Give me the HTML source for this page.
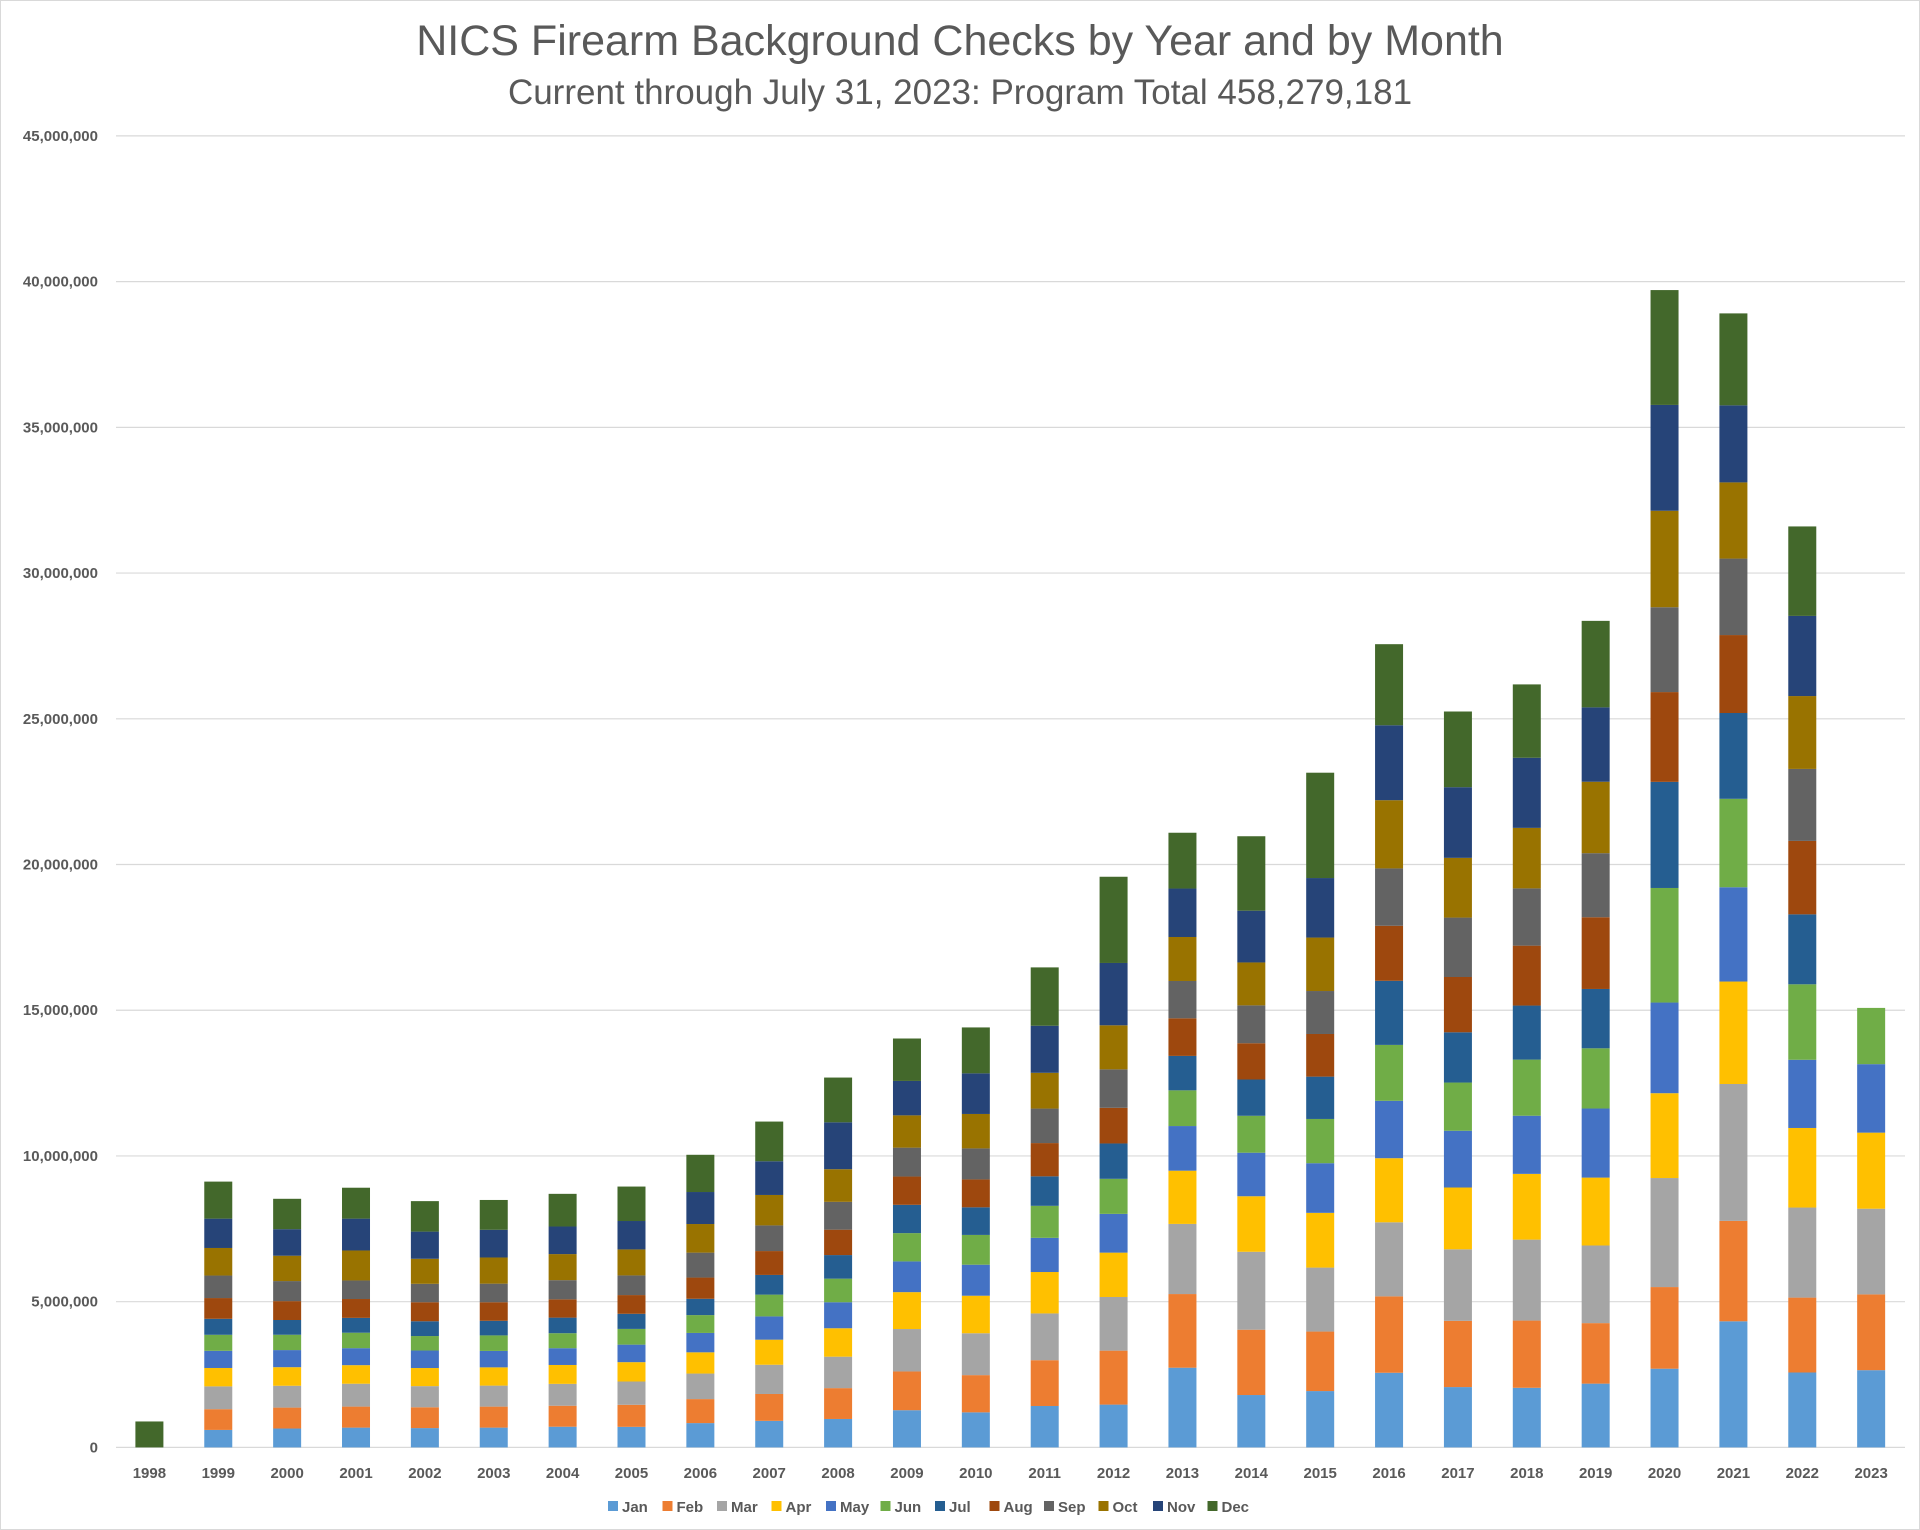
<!DOCTYPE html>
<html><head><meta charset="utf-8">
<style>
html,body{margin:0;padding:0;background:#fff;}
svg{display:block;font-family:"Liberation Sans",Arial,sans-serif;}
</style></head>
<body>
<svg id="c" width="1920" height="1530" viewBox="0 0 1920 1530" xmlns="http://www.w3.org/2000/svg">
<rect x="0.5" y="0.5" width="1919" height="1529" fill="#fff" stroke="#d9d9d9"/>
<text x="960" y="55" text-anchor="middle" font-size="43" fill="#595959">NICS Firearm Background Checks by Year and by Month</text>
<text x="960" y="104" text-anchor="middle" font-size="35" fill="#595959">Current through July 31, 2023: Program Total 458,279,181</text>
<g id="g"></g>
</svg>
<script>
var X0=149.4,DX=68.87,Y0=1447.4,H=1311.5,BW=28;
var cols=["#5B9BD5","#ED7D31","#A5A5A5","#FFC000","#4472C4","#70AD47","#255E91","#9E480E","#636363","#997300","#264478","#43682B"];
var names=["Jan","Feb","Mar","Apr","May","Jun","Jul","Aug","Sep","Oct","Nov","Dec"];
var D={
1999:[.59,.70,.77,.62,.58,.54,.54,.70,.76,.93,.99,1.25],
2000:[.64,.71,.74,.63,.58,.52,.50,.64,.68,.86,.90,1.03],
2001:[.64,.68,.74,.60,.55,.50,.48,.61,.60,.97,1.03,1.00],
2002:[.64,.69,.70,.60,.58,.48,.49,.63,.61,.83,.90,1.01],
2003:[.65,.69,.69,.60,.54,.51,.48,.61,.61,.86,.91,.98],
2004:[.69,.70,.73,.63,.56,.50,.52,.61,.64,.87,.92,1.09],
2005:[.68,.73,.77,.64,.58,.52,.50,.62,.65,.86,.94,1.14],
2006:[.79,.78,.83,.69,.63,.58,.53,.69,.81,.93,1.04,1.21],
2007:[.89,.90,.98,.84,.78,.73,.66,.80,.86,1.02,1.13,1.33],
2008:[.94,1.02,1.04,.94,.86,.78,.78,.84,.92,1.08,1.55,1.48],
2009:[1.21,1.26,1.38,1.20,1.00,.92,.92,.92,.94,1.05,1.12,1.38],
2010:[1.13,1.20,1.35,1.21,1.00,.96,.89,.90,1.00,1.11,1.31,1.48],
2011:[1.32,1.46,1.49,1.32,1.09,1.02,.94,1.06,1.10,1.14,1.50,1.86],
2012:[1.38,1.74,1.73,1.43,1.25,1.13,1.14,1.15,1.24,1.42,2.01,2.78],
2013:[2.50,2.31,2.20,1.67,1.40,1.12,1.08,1.18,1.17,1.38,1.52,1.75],
2014:[1.66,2.07,2.47,1.76,1.38,1.17,1.15,1.15,1.20,1.36,1.64,2.36],
2015:[1.77,1.87,2.01,1.72,1.56,1.39,1.33,1.34,1.35,1.68,1.87,3.31],
2016:[2.55,2.61,2.53,2.19,1.96,1.91,2.19,1.88,1.96,2.33,2.56,2.77],
2017:[2.04,2.24,2.42,2.09,1.92,1.63,1.70,1.87,2.01,2.02,2.39,2.56],
2018:[2.04,2.30,2.77,2.25,1.99,1.92,1.85,2.05,1.96,2.07,2.40,2.51],
2019:[2.16,2.05,2.63,2.30,2.34,2.04,2.01,2.43,2.17,2.42,2.52,2.93],
2020:[2.70,2.80,3.74,2.91,3.11,3.93,3.64,3.08,2.91,3.31,3.63,3.94],
2021:[4.32,3.44,4.69,3.51,3.23,3.03,2.94,2.67,2.62,2.61,2.64,3.15],
2022:[2.57,2.57,3.09,2.73,2.34,2.59,2.40,2.52,2.47,2.50,2.75,3.07],
2023:[2.65,2.60,2.94,2.61,2.35,1.93]};
var T={1999:9.12,2000:8.53,2001:8.91,2002:8.45,2003:8.49,2004:8.70,2005:8.95,2006:10.04,2007:11.18,2008:12.69,2009:14.03,2010:14.41,2011:16.47,2012:19.58,2013:21.09,2014:20.97,2015:23.15,2016:27.56,2017:25.25,2018:26.18,2019:28.36,2020:39.71,2021:38.91,2022:31.60};
var s='';
for(var i=0;i<=9;i++){var y=Y0-i*H/9;
 s+='<line x1="116" x2="1905" y1="'+y+'" y2="'+y+'" stroke="#d9d9d9" stroke-width="1.2"/>';
 var v=(i*5000000).toLocaleString('en-US');
 s+='<text x="98" y="'+(y+5)+'" text-anchor="end" font-size="15" font-weight="bold" fill="#595959">'+v+'</text>';}
function bar(x,vals){var c=0;for(var k=0;k<vals.length;k++){if(!vals[k])continue;var y1=Y0-c*H/45;c+=vals[k];var y2=Y0-c*H/45;
 s+='<rect x="'+(x-BW/2)+'" y="'+y2+'" width="'+BW+'" height="'+(y1-y2)+'" fill="'+cols[k]+'"/>';}}
for(var yr=1998;yr<=2023;yr++){var x=X0+(yr-1998)*DX;
 if(yr==1998){bar(x,[0,0,0,0,0,0,0,0,0,0,0,0.89]);}
 else{var a=D[yr].slice();if(T[yr]){var sm=a.reduce(function(p,q){return p+q},0);a=a.map(function(v){return v*T[yr]/sm});}bar(x,a);}
 s+='<text x="'+x+'" y="1478" text-anchor="middle" font-size="15" font-weight="bold" fill="#595959">'+yr+'</text>';}
var lx=608;
for(var k=0;k<12;k++){var w=names[k].length*9+26;
 s+='<rect x="'+lx+'" y="1501" width="10" height="10" fill="'+cols[k]+'"/>';
 s+='<text x="'+(lx+14)+'" y="1512" font-size="15" font-weight="bold" fill="#595959">'+names[k]+'</text>';
 lx+=w+(names[k].length*0.5);}
document.getElementById('g').innerHTML=s;
</script>
</body></html>
